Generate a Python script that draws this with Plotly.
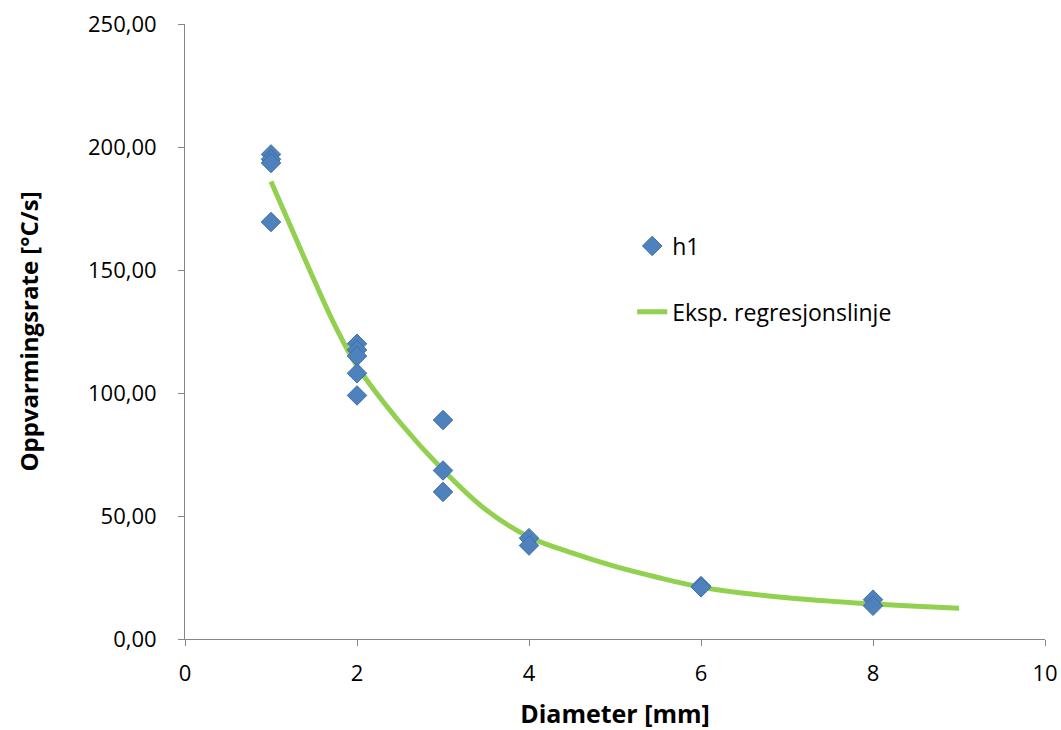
import plotly.graph_objects as go

# Measured data (h1)
diameter_mm = [1, 1, 1, 1, 2, 2, 2, 2, 2, 3, 3, 3, 4, 4, 6, 6, 8, 8]
heating_rate = [197, 195, 193.5, 169.5, 120, 117.5, 115, 108, 99, 89, 68.5, 59.8, 41, 38, 21.5, 21, 16, 13.5]

# Regression line values
reg_x = [1, 1.25, 1.5, 1.75, 2, 2.5, 3, 3.5, 4, 4.5, 5, 5.5, 6, 6.5, 7, 7.5, 8, 8.5, 9]
reg_y = [186, 166, 146, 127, 111, 88, 68.7, 52.5, 41.5, 35, 29.5, 25, 21.1, 18.6, 16.8, 15.4, 14.2, 13.3, 12.5]

x_ticks = [0, 2, 4, 6, 8, 10]
y_ticks = [0, 50, 100, 150, 200, 250]

FONT = "Open Sans"

fig = go.Figure()
fig.add_trace(go.Scatter(
    x=reg_x, y=reg_y, mode="lines", name="Eksp. regresjonslinje",
    legendgroup="b", legendrank=2,
    line=dict(color="#92D050", width=5, shape="spline"),
))
fig.add_trace(go.Scatter(
    x=diameter_mm, y=heating_rate, mode="markers", name="h1",
    legendgroup="a", legendrank=1,
    marker=dict(symbol="diamond", size=15, color="#4F81BD",
                line=dict(color="#3F6EA6", width=1)),
))

fig.update_layout(
    width=1061, height=730,
    margin=dict(l=185, r=16, t=24, b=91, autoexpand=False),
    paper_bgcolor="white", plot_bgcolor="white",
    separators=", ",
    font=dict(family=FONT, size=22, color="#000000"),
    legend=dict(x=0.520, y=0.674, xanchor="left", yanchor="top",
                traceorder="grouped", tracegroupgap=33,
                font=dict(family=FONT, size=23),
                bgcolor="rgba(0,0,0,0)"),
    xaxis=dict(range=[0, 10], tickvals=x_ticks, tickformat="d",
               automargin=False,
               showgrid=False, zeroline=False,
               showline=True, linecolor="#868686", linewidth=1,
               ticks="outside", ticklen=6, tickcolor="#868686",
               ticklabelstandoff=9,
               tickfont=dict(family=FONT, size=22),
               title=dict(text="<b>Diameter [mm]</b>", font=dict(family=FONT, size=25), standoff=19)),
    yaxis=dict(range=[0, 250], tickvals=y_ticks, tickformat=".2f",
               automargin=False,
               showgrid=False, zeroline=False,
               showline=True, linecolor="#868686", linewidth=1,
               ticks="outside", ticklen=6, tickcolor="#868686",
               ticklabelstandoff=17,
               tickfont=dict(family=FONT, size=22),
               title=dict(text="<b>Oppvarmingsrate [°C/s]</b>", font=dict(family=FONT, size=24), standoff=42)),
)

fig.write_html("out.html", config={"displayModeBar": False},
               post_script="document.body.style.margin='0';")
